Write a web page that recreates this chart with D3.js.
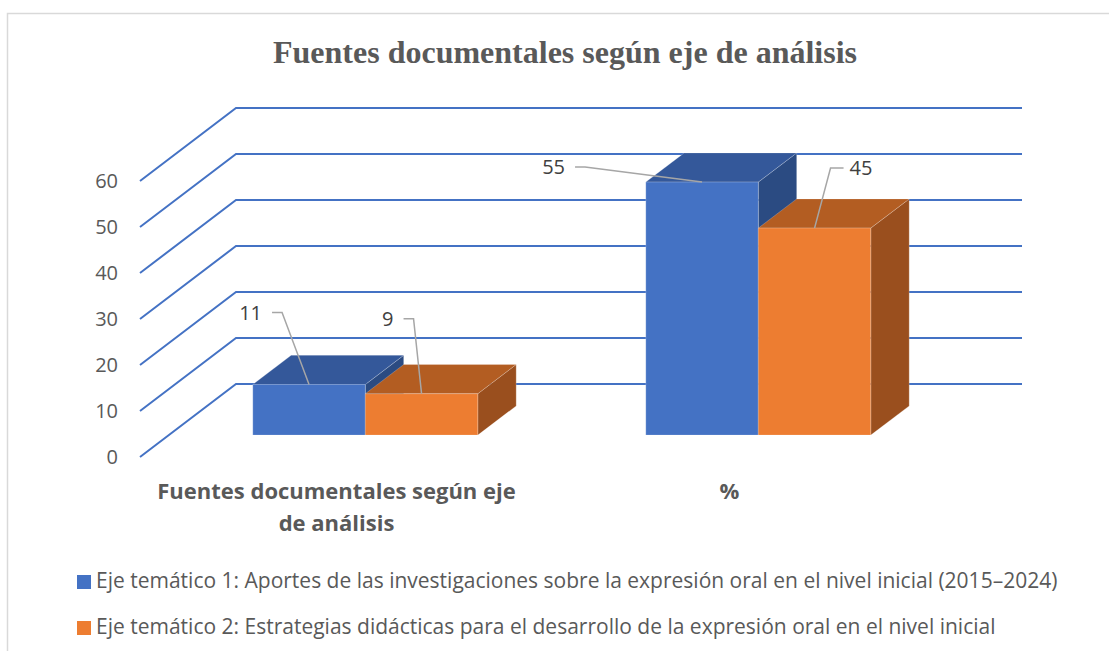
<!DOCTYPE html>
<html>
<head>
<meta charset="utf-8">
<script src="https://cdn.jsdelivr.net/npm/d3@7/dist/d3.min.js"></script>
<style>
  body { margin: 0; background: #fff; }
  svg { display: block; }
</style>
</head>
<body>
<svg></svg>
<script>
// chart data
const title = "Fuentes documentales según eje de análisis";
const categories = ["Fuentes documentales según eje de análisis", "%"];
const seriesNames = [
  "Eje temático 1: Aportes de las investigaciones sobre la expresión oral en el nivel inicial (2015–2024)",
  "Eje temático 2: Estrategias didácticas para el desarrollo de la expresión oral en el nivel inicial"
];
const eje1 = [11, 55];
const eje2 = [9, 45];
const yTicks = [0, 10, 20, 30, 40, 50, 60];

const series = [eje1, eje2];
const colors = [
  { front: "#4472C4", top: "#34589A", side: "#2B4B82" },
  { front: "#ED7D31", top: "#B35D22", side: "#9A4F1E" }
];
// where each data label sits relative to its bar top (leader line offsets)
const labelOffsets = [
  [{ dx: -47, dy: -72, anchor: "end", hook: 10 }, { dx: -137, dy: -15, anchor: "end", hook: 10 }],
  [{ dx: -28, dy: -75, anchor: "end", hook: 10 }, { dx: 35, dy: -60, anchor: "start", hook: -13 }]
];

var font = "'Open Sans', 'Noto Sans', Calibri, sans-serif";
var svgWidth = 1109, svgHeight = 651;
var svg = d3.select("svg").attr("width", svgWidth).attr("height", svgHeight);

// chart frame
svg.append("path")
  .attr("d", "M7.5,651 V13.5 H1109")
  .attr("fill", "none")
  .attr("stroke", "#d9d9d9")
  .attr("stroke-width", 1.5);

svg.append("text")
  .attr("x", 565).attr("y", 63)
  .attr("text-anchor", "middle")
  .attr("font-family", "Liberation Serif, Times New Roman, serif")
  .attr("font-weight", "bold")
  .attr("font-size", 32)
  .attr("fill", "#595959")
  .text(title);

// oblique 3d projection
var DX = 96, DY = -73;
var zFront = 0.30, zBack = 0.70;
var floorLeft = 140, floorRight = 926;

var y = d3.scaleLinear().domain([0, 60]).range([457, 181]);
var x = d3.scaleBand().domain(categories).range([floorLeft, floorRight]);
var barW = 112.5;
var sub = d3.scaleBand().domain(d3.range(series.length)).range([-barW, barW]);

// wall grid lines
var grid = svg.append("g");
yTicks.forEach(function(t) {
  grid.append("path")
    .attr("d", d3.line()([[floorLeft, y(t)], [floorLeft + DX, y(t) + DY], [floorRight + DX, y(t) + DY]]))
    .attr("fill", "none")
    .attr("stroke", "#4472C4")
    .attr("stroke-width", 2);
});

// y tick labels
svg.append("g").selectAll("text")
  .data(yTicks)
  .enter().append("text")
  .attr("x", 118)
  .attr("y", function(d) { return y(d) + 7; })
  .attr("text-anchor", "end")
  .attr("font-family", font)
  .attr("font-size", 20)
  .attr("fill", "#595959")
  .text(function(d) { return d; });

function pt(px, v, z) {
  return [px + z * DX, y(v) + z * DY];
}

// bars
var bars = svg.append("g");
var labels = [];
categories.forEach(function(c, ci) {
  series.forEach(function(s, si) {
    var v = s[ci];
    var x0 = x(c) + x.bandwidth() / 2 + sub(si);
    var x1 = x0 + sub.bandwidth();
    var col = colors[si];
    var top = [pt(x0, v, zFront), pt(x1, v, zFront), pt(x1, v, zBack), pt(x0, v, zBack)];
    var side = [pt(x1, v, zFront), pt(x1, v, zBack), pt(x1, 0, zBack), pt(x1, 0, zFront)];
    var front = [pt(x0, v, zFront), pt(x1, v, zFront), pt(x1, 0, zFront), pt(x0, 0, zFront)];
    [[side, col.side], [top, col.top], [front, col.front]].forEach(function(f) {
      bars.append("polygon")
        .attr("points", f[0].join(" "))
        .attr("fill", f[1])
        .attr("stroke", "rgba(255,255,255,0.35)")
        .attr("stroke-width", 0.6);
    });
    var a = pt((x0 + x1) / 2, v, zFront);
    labels.push({ v: v, a: a, o: labelOffsets[si][ci] });
  });
});

// data labels with leader lines
var lab = svg.append("g");
labels.forEach(function(d) {
  var lx = d.a[0] + d.o.dx, ly = d.a[1] + d.o.dy;
  var hx = d.o.anchor == "end" ? lx + 10 : lx - 6;
  lab.append("path")
    .attr("d", d3.line()([[hx, ly], [hx + d.o.hook, ly], d.a]))
    .attr("fill", "none")
    .attr("stroke", "#a6a6a6")
    .attr("stroke-width", 1.5);
  lab.append("text")
    .attr("x", lx).attr("y", ly + 7)
    .attr("text-anchor", d.o.anchor)
    .attr("font-family", font)
    .attr("font-size", 20)
    .attr("fill", "#404040")
    .text(d.v);
});

// category labels, wrapped
var catG = svg.append("g");
categories.forEach(function(c) {
  var t = catG.append("text")
    .attr("text-anchor", "middle")
    .attr("font-family", font)
    .attr("font-weight", "bold")
    .attr("font-size", 22)
    .attr("fill", "#595959");
  var cx = x(c) + x.bandwidth() / 2;
  var words = c.split(" "), line = [], lineNo = 0;
  var tspan = t.append("tspan").attr("x", cx).attr("y", 499);
  words.forEach(function(w) {
    line.push(w);
    tspan.text(line.join(" "));
    if (tspan.node().getComputedTextLength() > 372 && line.length > 1) {
      line.pop();
      tspan.text(line.join(" "));
      line = [w];
      lineNo++;
      tspan = t.append("tspan").attr("x", cx).attr("y", 499 + lineNo * 32).text(w);
    }
  });
});

// legend
var legend = svg.append("g");
seriesNames.forEach(function(n, i) {
  var ly = 588 + i * 46;
  legend.append("rect")
    .attr("x", 77).attr("y", ly - 13)
    .attr("width", 14).attr("height", 14)
    .attr("fill", colors[i].front);
  legend.append("text")
    .attr("x", 96).attr("y", ly)
    .attr("font-family", font)
    .attr("font-size", 21)
    .attr("fill", "#595959")
    .text(n);
});
</script>
</body>
</html>
